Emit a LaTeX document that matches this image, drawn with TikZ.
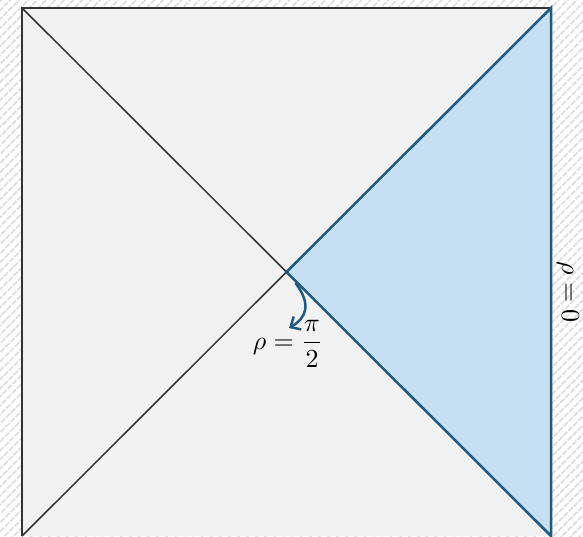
\documentclass[tikz,border=0pt]{standalone}
\usepackage{amsmath}
\usetikzlibrary{arrows.meta,patterns.meta}

\definecolor{sheetgray}{HTML}{F2F2F2}
\definecolor{wedgeblue}{HTML}{C5E0F3}
\definecolor{edgeblue}{HTML}{1F5A82}
\definecolor{hatchgray}{HTML}{DDDDDD}
\definecolor{linegray}{HTML}{333333}

\begin{document}
\begin{tikzpicture}[
                x=1pt, y=1pt,
                frame/.style={draw=linegray, line width=2pt},
                diag/.style={draw=linegray, line width=1.5pt},
                wedge/.style={fill=wedgeblue, draw=edgeblue, line width=2.5pt, line join=miter},
                tagtext/.style={scale=2.6, inner sep=0pt}
            ]

            % background hatch
            \fill[white] (0,0) rectangle (583,537);
            \fill[pattern={Lines[angle=45, distance=6.5pt, line width=2.2pt]}, pattern color=hatchgray]
                (0,0) rectangle (583,537);
            \useasboundingbox (0,0) rectangle (583,537);

            \coordinate (tl) at (22,529);
            \coordinate (tr) at (551,529);
            \coordinate (bl) at (22,1);
            \coordinate (br) at (551,1);
            \coordinate (c) at (286.5,265);

            % diagram
            \fill[sheetgray] (bl) rectangle (tr);
            \draw[frame] (bl) -- (tl) -- (tr) -- (br);
            \draw[diag] (tl) -- (br);
            \draw[diag] (bl) -- (tr);
            \draw[wedge] (c) -- (tr) -- (br) -- cycle;

            % labels
            \draw[edgeblue, line width=2.5pt, -{Straight Barb[length=8pt, width=15pt]}]
                (c) ++(9,-11) .. controls (312,232) and (306,219) .. (289,209);
            \node[tagtext] (rhohalf) at (288,193) {$\rho=\dfrac{\pi}{2}$};
            \node[tagtext, rotate=-90] (rhozero) at (568,245) {$\rho = 0$};

        \end{tikzpicture}
\end{document}
